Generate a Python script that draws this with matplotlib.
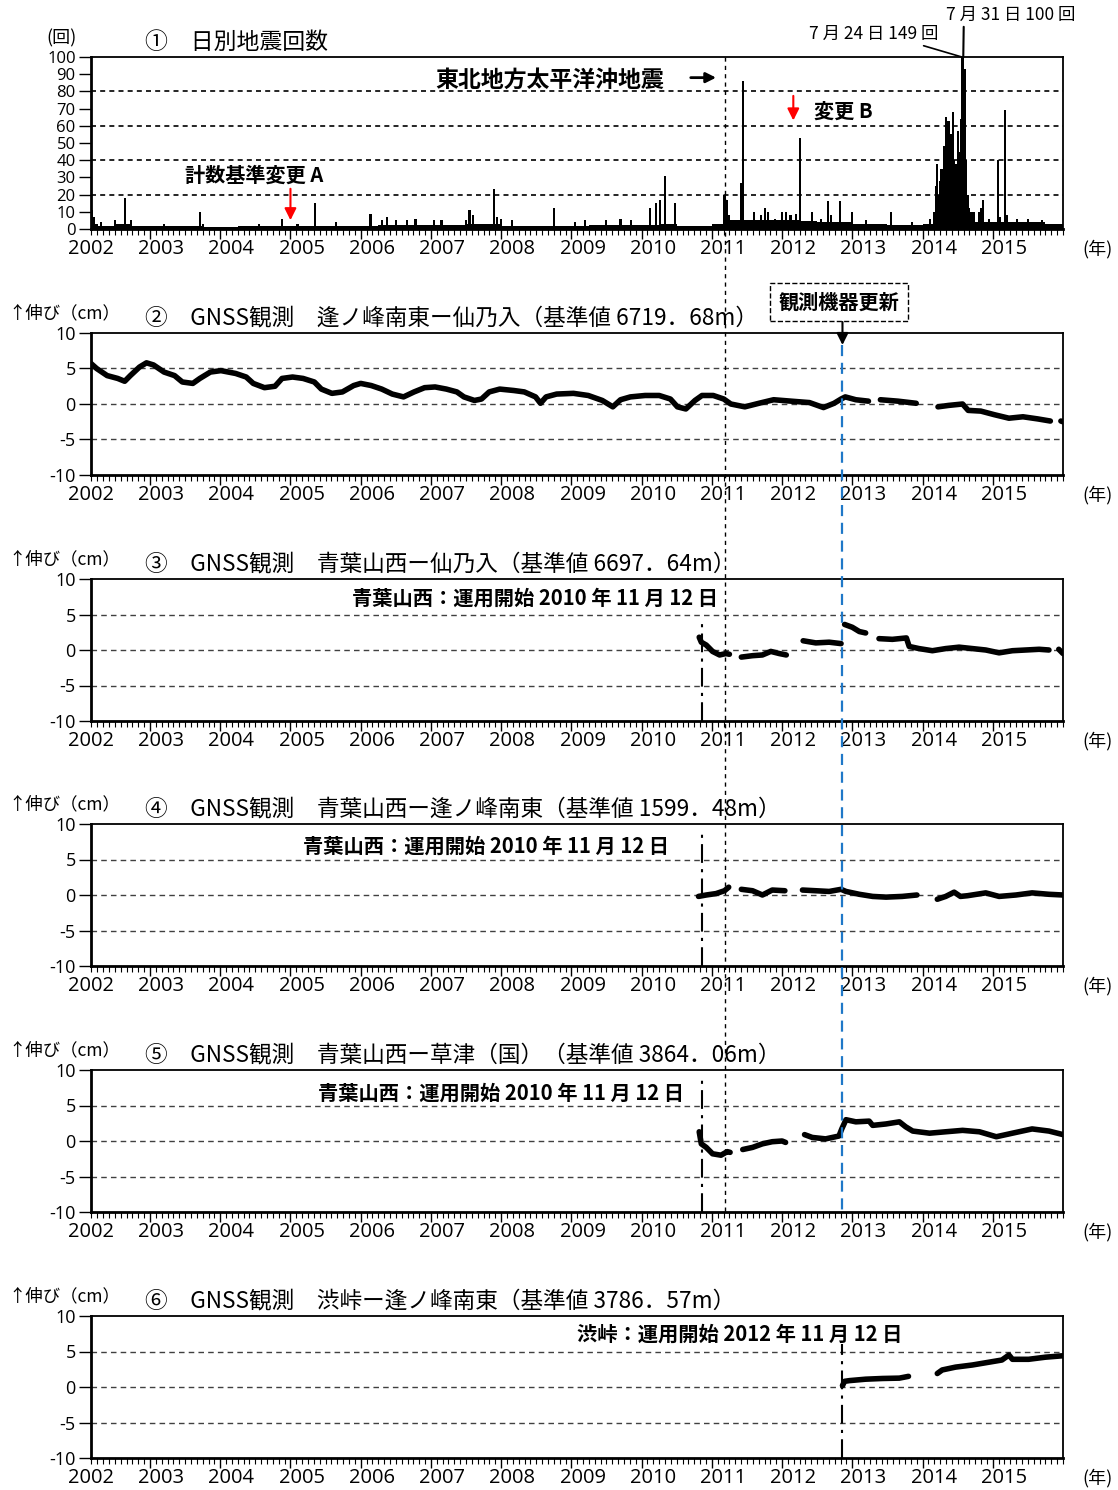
import numpy as np
import matplotlib
matplotlib.use('Agg')
import matplotlib.pyplot as plt
from matplotlib.transforms import blended_transform_factory
from matplotlib.lines import Line2D
from matplotlib.ticker import FixedLocator, MultipleLocator

plt.rcParams['font.family'] = ['Noto Sans CJK JP', 'DejaVu Sans']
plt.rcParams['axes.unicode_minus'] = False
LATIN = ['Open Sans', 'Noto Sans CJK JP', 'DejaVu Sans']
nan = np.nan

# ---------------- data ----------------
YEARS = list(range(2002, 2016))

# panel 1: daily earthquake counts
base_q_start = [2002 + 0.25 * i for i in range(56)]
base_q_count = [3, 2, 3, 2,  1.5, 1.5, 2, 1,  1, 1.5, 1.5, 2,  2, 1.5, 1.5, 1.5,
                2, 2.5, 2.5, 2.5,  2.5, 2.5, 3, 3,  2, 2, 2, 2,  2, 2.5, 2.5, 2.5,
                2.5, 3, 2, 2,  3, 5, 5, 5,  5, 4.5, 4, 4,  3, 3, 2.5, 2.5,
                3, 16, 10, 4,  4, 4, 4, 3]
spike_t = [2002.18, 2002.20, 2002.24, 2002.30, 2002.50, 2002.65, 2002.73, 2003.20, 2003.71, 2003.75,
           2004.55, 2004.88, 2005.10, 2005.35, 2005.65, 2006.14, 2006.30, 2006.38, 2006.50, 2006.66,
           2006.78, 2007.04, 2007.15, 2007.50, 2007.55, 2007.60, 2007.90, 2007.94, 2008.00, 2008.15,
           2008.75, 2009.05, 2009.20, 2009.49, 2009.70, 2009.85, 2010.12, 2010.20, 2010.26, 2010.33,
           2010.47, 2011.18, 2011.22, 2011.25, 2011.41, 2011.44, 2011.60, 2011.70, 2011.76, 2011.80,
           2011.90, 2012.00, 2012.05, 2012.12, 2012.20, 2012.26, 2012.42, 2012.55, 2012.65, 2012.70,
           2012.83, 2013.00, 2013.20, 2013.55, 2013.85, 2014.11,
           2014.17, 2014.19, 2014.21, 2014.23, 2014.25, 2014.27, 2014.29, 2014.31, 2014.33, 2014.35,
           2014.37, 2014.39, 2014.41, 2014.43, 2014.45, 2014.47, 2014.49, 2014.51, 2014.53, 2014.55,
           2014.56, 2014.58, 2014.60, 2014.62, 2014.64, 2014.66,
           2014.80, 2014.83, 2014.86, 2014.95, 2015.07, 2015.10, 2015.17, 2015.20, 2015.35, 2015.50,
           2015.70]
spike_n = [11, 7, 3, 4, 5, 18, 5, 3, 10, 3,
           3, 6, 3, 15, 4, 9, 5, 7, 5, 5,
           6, 5, 5, 5, 11, 8, 23, 7, 6, 5,
           12, 4, 5, 5, 6, 5, 12, 15, 17, 31,
           15, 20, 17, 8, 27, 86, 10, 8, 12, 10,
           6, 10, 10, 8, 9, 53, 10, 6, 16, 8,
           16, 10, 5, 10, 4, 6,
           10, 25, 38, 20, 28, 35, 30, 48, 65, 45,
           63, 35, 55, 68, 40, 38, 30, 57, 45, 64,
           149, 100, 93, 40, 20, 12,
           10, 12, 17, 6, 40, 7, 69, 8, 6, 6,
           5]

# panel 2: 逢ノ峰南東ー仙乃入
p2_t = [2002.16, 2002.24, 2002.39, 2002.54, 2002.64, 2002.72, 2002.85, 2002.95, 2003.05, 2003.20,
        2003.35, 2003.46, 2003.61, 2003.71, 2003.86, 2004.01, 2004.22, 2004.37, 2004.47, 2004.63,
        2004.78, 2004.88, 2005.03, 2005.18, 2005.34, 2005.44, 2005.59, 2005.74, 2005.90, 2006.00,
        2006.15, 2006.30, 2006.45, 2006.61, 2006.76, 2006.91, 2007.06, 2007.22, 2007.37, 2007.47,
        2007.62, 2007.72, 2007.83, 2007.98, 2008.18, 2008.33, 2008.49, 2008.56, 2008.64, 2008.79,
        2009.03, 2009.24, 2009.44, 2009.59, 2009.70, 2009.84, 2010.05, 2010.25, 2010.41, 2010.51,
        2010.63, 2010.76, 2010.86, 2011.02, 2011.17, 2011.27, 2011.47, 2011.67, 2011.88, 2012.13,
        2012.39, 2012.59, 2012.74, 2012.84, 2012.90, 2013.05, 2013.23, nan, 2013.40, 2013.65,
        2013.91, nan, 2014.22, 2014.37, 2014.57, 2014.65, 2014.83, 2015.02, 2015.23, 2015.43,
        2015.64, 2015.82, nan, 2015.97, 2016.00]
p2_v = [5.7, 5.0, 4.0, 3.6, 3.2, 4.0, 5.2, 5.8, 5.5, 4.5,
        4.0, 3.1, 2.9, 3.6, 4.5, 4.7, 4.3, 3.8, 2.9, 2.3,
        2.5, 3.6, 3.8, 3.6, 3.1, 2.1, 1.5, 1.7, 2.6, 2.9,
        2.6, 2.1, 1.4, 1.0, 1.7, 2.3, 2.4, 2.1, 1.7, 1.0,
        0.5, 0.7, 1.7, 2.1, 1.9, 1.7, 1.0, 0.1, 1.0, 1.4,
        1.5, 1.2, 0.5, -0.4, 0.6, 1.0, 1.2, 1.2, 0.7, -0.4,
        -0.7, 0.5, 1.2, 1.2, 0.7, 0.0, -0.4, 0.1, 0.6, 0.4,
        0.2, -0.5, 0.1, 0.7, 1.0, 0.6, 0.4, nan, 0.6, 0.4,
        0.1, nan, -0.4, -0.2, 0.0, -0.9, -1.0, -1.5, -2.0, -1.8,
        -2.1, -2.4, nan, -2.4, -2.5]

# panel 3: 青葉山西ー仙乃入
p3_t = [2010.82, 2010.85, 2010.92, 2011.01, 2011.11, 2011.20, 2011.25, nan, 2011.42, 2011.58,
        2011.72, 2011.84, 2011.96, 2012.06, nan, 2012.30, 2012.48, 2012.67, 2012.84, nan,
        2012.89, 2013.00, 2013.10, 2013.19, nan, 2013.38, 2013.57, 2013.77, 2013.81, 2013.95,
        2014.14, 2014.33, 2014.52, 2014.71, 2014.90, 2015.09, 2015.28, 2015.47, 2015.66, 2015.80,
        nan, 2015.94, 2016.00]
p3_v = [1.8, 1.1, 0.7, -0.2, -0.7, -0.5, -0.6, nan, -1.0, -0.8,
        -0.7, -0.2, -0.5, -0.7, nan, 1.3, 1.0, 1.1, 0.9, nan,
        3.6, 3.2, 2.6, 2.4, nan, 1.6, 1.5, 1.7, 0.5, 0.2,
        -0.1, 0.2, 0.4, 0.2, 0.0, -0.4, -0.1, 0.0, 0.1, 0.0,
        nan, 0.1, -0.5]

# panel 4: 青葉山西ー逢ノ峰南東
p4_t = [2010.81, 2010.92, 2011.06, 2011.18, 2011.24, nan, 2011.42, 2011.58, 2011.72, 2011.86,
        2012.04, nan, 2012.29, 2012.48, 2012.67, 2012.84, 2012.91, 2013.10, 2013.29, 2013.48,
        2013.71, 2013.92, nan, 2014.21, 2014.33, 2014.45, 2014.54, 2014.64, 2014.90, 2015.09,
        2015.33, 2015.56, 2015.80, 2016.00]
p4_v = [-0.2, 0.0, 0.2, 0.6, 1.1, nan, 0.8, 0.6, 0.0, 0.7,
        0.6, nan, 0.7, 0.6, 0.5, 0.8, 0.5, 0.1, -0.2, -0.3,
        -0.2, 0.0, nan, -0.6, -0.2, 0.4, -0.2, -0.1, 0.3, -0.2,
        0.0, 0.3, 0.1, 0.0]

# panel 5: 青葉山西ー草津（国）
p5_t = [2010.82, 2010.85, 2010.92, 2011.01, 2011.13, 2011.22, 2011.26, nan, 2011.44, 2011.58,
        2011.72, 2011.86, 2012.00, 2012.05, nan, 2012.32, 2012.43, 2012.62, 2012.81, 2012.85,
        2012.91, 2013.05, 2013.24, 2013.29, 2013.48, 2013.67, 2013.76, 2013.86, 2014.10, 2014.33,
        2014.57, 2014.81, 2015.05, 2015.28, 2015.56, 2015.80, 2016.00]
p5_v = [1.3, -0.4, -0.9, -1.8, -2.0, -1.5, -1.6, nan, -1.2, -0.9,
        -0.4, -0.1, 0.0, -0.2, nan, 0.9, 0.5, 0.3, 0.7, 1.7,
        3.0, 2.7, 2.8, 2.2, 2.4, 2.7, 2.0, 1.4, 1.1, 1.3,
        1.5, 1.3, 0.6, 1.1, 1.7, 1.4, 0.9]

# panel 6: 渋峠ー逢ノ峰南東
p6_t = [2012.86, 2012.89, 2012.96, 2013.19, 2013.43, 2013.67, 2013.80, nan, 2014.21, 2014.28,
        2014.47, 2014.71, 2014.95, 2015.13, 2015.23, 2015.28, 2015.51, 2015.75, 2016.00]
p6_v = [0.2, 0.8, 0.9, 1.1, 1.2, 1.25, 1.5, nan, 1.9, 2.4,
        2.8, 3.1, 3.5, 3.8, 4.5, 3.9, 3.9, 4.2, 4.4]

TOHOKU = 2011.19
RENEW = 2012.86
START_AOBA = 2010.86
START_SHIBU = 2012.86

titles = ['②　GNSS観測　逢ノ峰南東ー仙乃入（基準値 6719．68m）',
          '③　GNSS観測　青葉山西ー仙乃入（基準値 6697．64m）',
          '④　GNSS観測　青葉山西ー逢ノ峰南東（基準値 1599．48m）',
          '⑤　GNSS観測　青葉山西ー草津（国）（基準値 3864．06m）',
          '⑥　GNSS観測　渋峠ー逢ノ峰南東（基準値 3786．57m）']
start_texts = ['青葉山西：運用開始 2010 年 11 月 12 日',
               '青葉山西：運用開始 2010 年 11 月 12 日',
               '青葉山西：運用開始 2010 年 11 月 12 日',
               '渋峠：運用開始 2012 年 11 月 12 日']

# ---------------- figure ----------------
W, H = 1118, 1490
fig = plt.figure(figsize=(W / 100, H / 100), dpi=100)
X0, XW = 91, 972


def add_ax(top, h):
    return fig.add_axes([X0 / W, 1 - (top + h) / H, XW / W, h / H])


def style(ax, h):
    ax.set_xlim(2002.16, 2016.0)
    ax.xaxis.set_major_locator(FixedLocator(YEARS[1:]))
    ax.xaxis.set_minor_locator(MultipleLocator(1 / 12))
    ax.tick_params(axis='x', which='major', length=7, width=1.0, direction='out', labelbottom=False)
    ax.tick_params(axis='x', which='minor', length=4, width=0.8, direction='out')
    ax.tick_params(axis='y', which='major', length=9, width=1.0, direction='out', pad=2)
    for s in ['left', 'bottom']:
        ax.spines[s].set_linewidth(2.0)
    for s in ['top', 'right']:
        ax.spines[s].set_linewidth(1.3)
    tr = blended_transform_factory(ax.transData, ax.transAxes)
    for y in YEARS:
        ax.text(y + 0.16, -20 / h, str(y), transform=tr, ha='center', va='center',
                fontsize=14.5, family=LATIN)
    ax.text(1.036, -20 / h, '(年)', transform=ax.transAxes, ha='center', va='center', fontsize=13)


# ----- panel 1 -----
ax1 = add_ax(57, 172)
ax1.bar(base_q_start, base_q_count, width=0.25, align='edge', color='k', linewidth=0)
ax1.bar(spike_t, spike_n, width=0.03, color='k', linewidth=0)
ax1.set_ylim(0, 100)
ax1.set_yticks(range(0, 101, 10))
ax1.set_yticklabels([str(v) for v in range(0, 101, 10)], fontsize=12, family=LATIN)
for yv in [20, 40, 60, 80]:
    ax1.axhline(yv, color='k', lw=1.2, dashes=(3, 2.5), zorder=0.5)
style(ax1, 172)
fig.text(62 / W, 1 - 38 / H, '(回)', ha='center', va='center', fontsize=13)
fig.text(145 / W, 1 - 42 / H, '①　日別地震回数', ha='left', va='center', fontsize=16.5)

ax1.text(2008.69, 86.5, '東北地方太平洋沖地震', ha='center', va='center', fontsize=16.5, fontweight='bold')
ax1.annotate('', xy=(2011.1, 88), xytext=(2010.66, 88),
             arrowprops=dict(arrowstyle='-|>,head_length=0.6,head_width=0.3', color='k', lw=2))
ax1.text(2004.48, 31.5, '計数基準変更 A', ha='center', va='center', fontsize=14.5, fontweight='bold')
ax1.annotate('', xy=(2005.0, 3.5), xytext=(2005.0, 25),
             arrowprops=dict(arrowstyle='-|>,head_length=0.7,head_width=0.35', color='red', lw=1.5))
ax1.text(2012.46, 68.6, '変更 B', ha='left', va='center', fontsize=14.5, fontweight='bold')
ax1.annotate('', xy=(2012.16, 61.5), xytext=(2012.16, 79),
             arrowprops=dict(arrowstyle='-|>,head_length=0.7,head_width=0.35', color='red', lw=1.5))
ax1.annotate('7 月 24 日 149 回', xy=(2014.56, 100), xytext=(2013.31, 113.4),
             ha='center', va='center', fontsize=12.5, annotation_clip=False,
             arrowprops=dict(arrowstyle='-', color='k', lw=1.2, shrinkA=0, shrinkB=0,
                             relpos=(0.81, 0.0)))
ax1.annotate('7 月 31 日 100 回', xy=(2014.58, 100), xytext=(2015.25, 124.4),
             ha='center', va='center', fontsize=12.5, annotation_clip=False,
             arrowprops=dict(arrowstyle='-', color='k', lw=1.5, shrinkA=0, shrinkB=0,
                             relpos=(0.14, 0.0)))

# ----- GNSS panels -----
tops = [333, 579, 824, 1070, 1316]
series = [(p2_t, p2_v), (p3_t, p3_v), (p4_t, p4_v), (p5_t, p5_v), (p6_t, p6_v)]
axes = []
for i, (top, (t, v)) in enumerate(zip(tops, series)):
    ax = add_ax(top, 142)
    axes.append(ax)
    for yv in [-5, 0, 5]:
        ax.axhline(yv, color='#404040', lw=1.0, dashes=(4, 3), zorder=0.5)
    ax.plot(t, v, color='k', lw=4.0, solid_capstyle='round', solid_joinstyle='round', zorder=3)
    ax.set_ylim(-10, 10)
    ax.set_yticks([-10, -5, 0, 5, 10])
    ax.set_yticklabels(['-10', '-5', '0', '5', '10'], fontsize=13, family=LATIN)
    style(ax, 142)
    fig.text(8 / W, 1 - (top - 20) / H, '↑伸び（cm）', ha='left', va='center', fontsize=12.5)
    fig.text(145 / W, 1 - (top - 15) / H, titles[i], ha='left', va='center', fontsize=16.3)

# start-of-operation annotations
start_x = [2008.48, 2007.79, 2008.0, 2011.39]
start_y = [0.866, 0.845, 0.838, 0.873]
dash_top = [0.70, 0.96, 0.93, 0.80]
start_dates = [START_AOBA, START_AOBA, START_AOBA, START_SHIBU]
for ax, sx, sy, dt, sd, txt in zip(axes[1:], start_x, start_y, dash_top, start_dates, start_texts):
    tr = blended_transform_factory(ax.transData, ax.transAxes)
    ax.text(sx, sy, txt, transform=tr, ha='center', va='center', fontsize=14.6, fontweight='bold', zorder=4)
    ax.axvline(sd, ymin=0, ymax=dt, color='k', lw=1.5, dashes=(9, 3, 1.5, 3), zorder=5)

# 観測機器更新 box + arrow
ax2 = axes[0]
tr2 = blended_transform_factory(ax2.transData, ax2.transAxes)
ax2.text(2012.81, 1 + 31 / 142, '観測機器更新', transform=tr2, ha='center', va='center',
         fontsize=14.5, fontweight='bold',
         bbox=dict(boxstyle='square,pad=0.42', fc='white', ec='k', ls='--', lw=1.0))
ax2.annotate('', xy=(RENEW, 1 - 12 / 142), xytext=(RENEW, 1 + 11 / 142), xycoords=tr2, textcoords=tr2,
             annotation_clip=False,
             arrowprops=dict(arrowstyle='-|>,head_length=0.7,head_width=0.35', color='k', lw=1.5,
                             shrinkA=0, shrinkB=0))

# long vertical reference lines across panels
trf = blended_transform_factory(ax1.transData, fig.transFigure)
fig.add_artist(Line2D([TOHOKU, TOHOKU], [1 - 57 / H, 1 - 1212 / H], transform=trf,
                      color='k', lw=1.0, dashes=(3, 3), zorder=10))
fig.add_artist(Line2D([RENEW, RENEW], [1 - 345 / H, 1 - 1212 / H], transform=trf,
                      color='#1f78c8', lw=1.6, dashes=(5, 3), zorder=10))

fig.savefig('out.png', dpi=100)
